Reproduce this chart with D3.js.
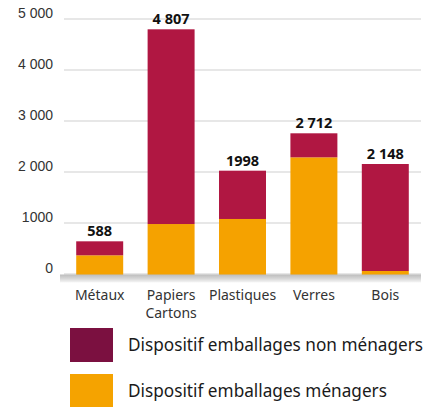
<!DOCTYPE html>
<html>
<head>
<meta charset="utf-8">
<script src="https://cdn.jsdelivr.net/npm/d3@7"></script>
<style>
	body { margin: 0; background: #fff; }
	svg { display: block; font-family: 'Noto Sans', sans-serif; }
</style>
</head>
<body>
<svg width="434" height="407"></svg>
<script>
// values (tonnes)
let categories = ['Métaux', 'Papiers\nCartons', 'Plastiques', 'Verres', 'Bois']
let menagers = [357, 970, 1069, 2278, 49]
let nonMenagers = [274, 3818, 947, 471, 2098]
let totalLabels = ['588', '4 807', '1998', '2 712', '2 148']
let tickValues = [0, 1000, 2000, 3000, 4000, 5000]
let tickLabels = ['0', '1000', '2 000', '3 000', '4 000', '5 000']
let seriesNames = ['Dispositif emballages non ménagers', 'Dispositif emballages ménagers']

let svg = d3.select('svg')

let x = d3.scaleBand()
	.domain(categories)
	.range([64, 421])
	.paddingInner(0.342)
	.paddingOuter(0.171)

let y = d3.scaleLinear()
	.domain([0, 5000])
	.range([273.5, 18.5])

// gridlines + tick labels
let yAxis = d3.axisLeft(y)
	.tickValues(tickValues)
	.tickSize(-(421 - 64))
	.tickFormat((d, i) => tickLabels[i])

svg.append('g')
	.attr('transform', 'translate(64,0)')
	.call(yAxis)
	.call(g => g.select('.domain').remove())
	.call(g => g.selectAll('.tick line').attr('stroke', '#cfcfcf').attr('stroke-width', 1))
	.call(g => g.selectAll('.tick text')
		.attr('x', -11).attr('dy', '-0.05em')
		.style('font-size', '14px').style('fill', '#333'))

let rows = categories.map((c, i) => ({cat: c, men: menagers[i], non: nonMenagers[i]}))
let stack = d3.stack().keys(['men', 'non'])(rows)
let colors = {men: '#f5a200', non: '#b01742'}

svg.append('g').selectAll('g')
	.data(stack).join('g')
		.attr('fill', s => colors[s.key])
	.selectAll('rect')
	.data(s => s).join('rect')
		.attr('x', d => x(d.data.cat))
		.attr('width', x.bandwidth())
		.attr('y', d => y(d[1]))
		.attr('height', d => y(d[0]) - y(d[1]) + (d[0] == 0 ? 1.5 : 0))

// ground strip
let grad = svg.append('defs').append('linearGradient')
	.attr('id', 'ground').attr('x1', 0).attr('x2', 0).attr('y1', 0).attr('y2', 1)
grad.append('stop').attr('offset', 0).attr('stop-color', '#bcbcbc')
grad.append('stop').attr('offset', 0.5).attr('stop-color', '#d6d6d6')
grad.append('stop').attr('offset', 1).attr('stop-color', '#f6f6f6')
svg.append('rect')
	.attr('x', 60).attr('width', 421 - 60)
	.attr('y', y(0) + 1).attr('height', 8)
	.attr('fill', 'url(#ground)')

// totals
svg.append('g').selectAll('text')
	.data(stack[1]).join('text')
		.attr('x', d => x(d.data.cat) + x.bandwidth() / 2)
		.attr('y', d => y(d[1]) - 5)
		.attr('text-anchor', 'middle')
		.style('font-size', '14.5px').style('font-weight', 'bold').style('fill', '#111')
		.text((d, i) => totalLabels[i])

// category labels
svg.append('g').selectAll('text')
	.data(categories).join('text')
		.attr('text-anchor', 'middle')
		.style('font-size', '14px').style('fill', '#333')
		.attr('transform', c => `translate(${x(c) + x.bandwidth() / 2}, 300)`)
	.selectAll('tspan')
	.data(c => c.split('\n')).join('tspan')
		.attr('x', 0)
		.attr('dy', (d, i) => i ? 17.5 : 0)
		.text(d => d)

// legend
let legendColors = ['#7b1040', '#f5a300']
let legend = svg.append('g').selectAll('g')
	.data(seriesNames).join('g')
		.attr('transform', (d, i) => `translate(70, ${328 + i * 46})`)
legend.append('rect')
	.attr('width', 43).attr('height', 34)
	.attr('fill', (d, i) => legendColors[i])
legend.append('text')
	.attr('x', 58).attr('y', 17).attr('dy', '0.35em')
	.style('font-size', '17.2px').style('fill', '#1a1a1a')
	.text(d => d)
</script>
</body>
</html>
